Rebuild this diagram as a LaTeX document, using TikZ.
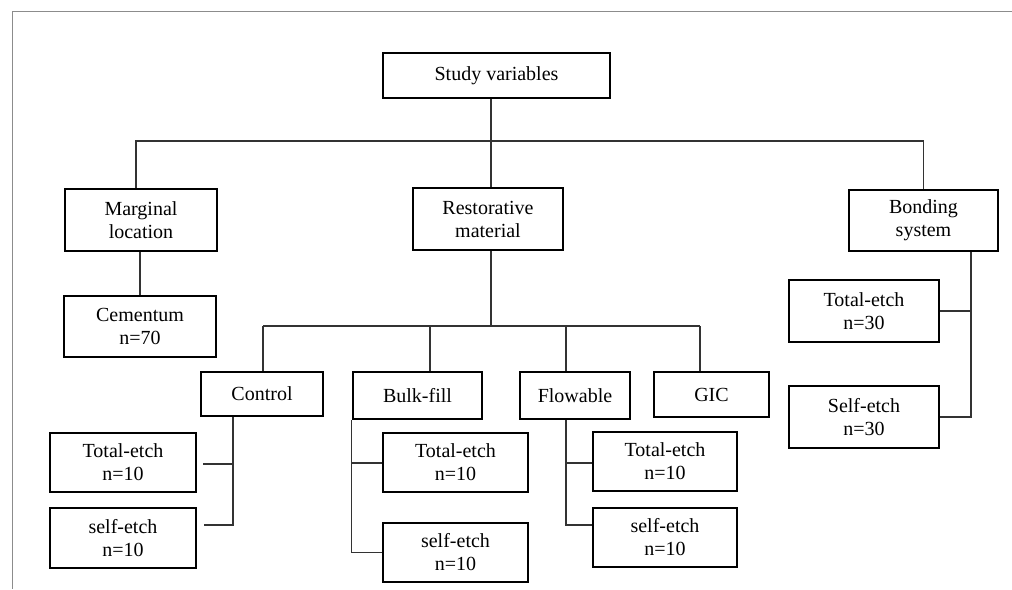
\documentclass[tikz,border=0pt]{standalone}
\usepackage{fontspec}
\setmainfont{Liberation Serif}
\begin{document}
\begin{tikzpicture}[x=1pt,y=-1pt,
  box/.style={draw=black, line width=2.8pt, align=center, inner sep=0pt,
    font=\fontsize{20}{23}\selectfont},
  conn/.style={draw=black!80, line width=1.2pt},
  frame/.style={draw=black!45, line width=1pt}]
\useasboundingbox (0,0) rectangle (1012,589);
\draw[frame] (1012,11) -- (12,11) -- (12,589);
% nodes
\node[box, minimum width=227, minimum height=45] (sv) at (496.5,75.5) {Study variables};
\node[box, minimum width=152, minimum height=62] (ml) at (141,220) {Marginal\\location};
\node[box, minimum width=150, minimum height=62] (rm) at (488,219) {Restorative\\material};
\node[box, minimum width=149, minimum height=61] (bs) at (923.5,220.5) {Bonding\\system};
\node[box, minimum width=152, minimum height=61] (cem) at (140,326.5) {Cementum\\n=70};
\node[box, minimum width=122, minimum height=44] (ctl) at (262,394) {Control};
\node[box, minimum width=129, minimum height=47] (bf) at (417.5,395.5) {Bulk-fill};
\node[box, minimum width=110, minimum height=47] (fl) at (575,395.5) {Flowable};
\node[box, minimum width=115, minimum height=45] (gic) at (711.5,394.5) {GIC};
\node[box, minimum width=146, minimum height=59] (cte) at (123,462.5) {Total-etch\\n=10};
\node[box, minimum width=146, minimum height=60] (cse) at (123,538) {self-etch\\n=10};
\node[box, minimum width=145, minimum height=59] (bte) at (455.5,462.5) {Total-etch\\n=10};
\node[box, minimum width=145, minimum height=59] (bse) at (455.5,552.5) {self-etch\\n=10};
\node[box, minimum width=144, minimum height=59] (fte) at (665,461.5) {Total-etch\\n=10};
\node[box, minimum width=144, minimum height=59] (fse) at (665,537.5) {self-etch\\n=10};
\node[box, minimum width=150, minimum height=62] (ste) at (864,311) {Total-etch\\n=30};
\node[box, minimum width=150, minimum height=62] (sse) at (864,417) {Self-etch\\n=30};
% helper coordinates
\coordinate (sv0) at (491,0);
\coordinate (bus1) at (0,141);
\coordinate (d1) at (263,326);
\coordinate (d2) at (430,326);
\coordinate (d3) at (566,326);
\coordinate (d4) at (700,326);
\coordinate (cv1) at (233,464);
\coordinate (cv2) at (233,525);
\coordinate (fv1) at (566,463);
\coordinate (fv2) at (566,525);
\coordinate (bv) at (971,0);
% top level
\draw[conn] (sv0 |- sv.south) -- (sv0 |- rm.north);
\draw[conn] (ml.north -| 136,0) -- (bus1 -| 136,0) -- (bus1 -| bs.north) -- (bs.north);
\draw[conn] (ml.south -| cem.north) -- (cem.north);
% restorative material
\draw[conn] (sv0 |- rm.south) -- (sv0 |- d1);
\draw[conn] (d1) -- (d4);
\draw[conn] (d1) -- (d1 |- ctl.north);
\draw[conn] (d2) -- (d2 |- bf.north);
\draw[conn] (d3) -- (d3 |- fl.north);
\draw[conn] (d4) -- (d4 |- gic.north);
% control
\draw[conn] (cv1 |- ctl.south) -- (cv2) -- ([xshift=7]cse.east |- cv2);
\draw[conn] ([xshift=6]cte.east |- cv1) -- (cv1);
% bulk-fill
\draw[conn] (bf.south west) -- (bf.south west |- bse.west) -- (bse.west);
\draw[conn] (bf.south west |- fv1) -- (bte.west |- fv1);
% flowable
\draw[conn] (fv1 |- fl.south) -- (fv2) -- (fse.west |- fv2);
\draw[conn] (fv1) -- (fte.west |- fv1);
% bonding system
\draw[conn] (bv |- bs.south) -- (bv |- sse.east) -- (sse.east);
\draw[conn] (ste.east) -- (bv |- ste.east);
\end{tikzpicture}
\end{document}
